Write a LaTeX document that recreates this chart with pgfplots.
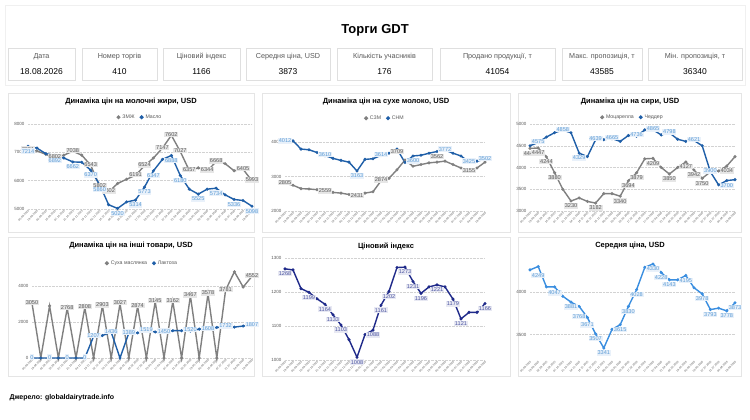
\documentclass[border=0pt]{standalone}
\usepackage{pgfplots}
\pgfplotsset{compat=1.18}
\usepackage{fontspec}
\setmainfont{Liberation Sans}
\definecolor{gl}{HTML}{808080}
\definecolor{glt}{HTML}{595959}
\definecolor{glf}{HTML}{E6E6E6}
\definecolor{bl}{HTML}{1F5FA8}
\definecolor{blt}{HTML}{5B9BD5}
\definecolor{blf}{HTML}{E9F1FA}
\definecolor{nv}{HTML}{1F2A8A}
\definecolor{nvf}{HTML}{E8E9F3}
\definecolor{lb}{HTML}{3A8EE0}
\pgfplotsset{
 panel/.style={scale only axis, xmin=0, xmax=25, xtick={0,...,25},
  xticklabels={05.08.2025,19.08.2025,02.09.2025,16.09.2025,07.10.2025,21.10.2025,04.11.2025,18.11.2025,02.12.2025,16.12.2025,06.01.2026,20.01.2026,03.02.2026,17.02.2026,03.03.2026,17.03.2026,07.04.2026,21.04.2026,05.05.2026,19.05.2026,02.06.2026,16.06.2026,07.07.2026,21.07.2026,04.08.2026,18.08.2026},
  x tick label style={rotate=45,anchor=north east,font=\fontsize{2.8}{3}\selectfont,inner sep=0.5pt,text=glt},
  y tick label style={font=\fontsize{4.5}{5}\selectfont,text=glt},
  ymajorgrids, grid style={densely dotted,gray!35},
  axis line style={draw=none}, major tick style={draw=none},
  /pgf/number format/1000 sep={}, /pgf/number format/assume math mode=true,
  legend style={draw=none,fill=none,font=\fontsize{5.2}{6}\selectfont,text=glt,legend columns=2,at={(0.5,1)},anchor=south,yshift=2pt,inner sep=0pt,
   /tikz/every even column/.append style={column sep=3pt}},
  legend image code/.code={\fill (0.05cm,0cm) circle (1.2pt);},
  clip=false},
 ln/.style={color=#1,line width=1.4pt,mark=*,mark size=0.7pt},
 lab/.style n args={3}{forget plot,draw=none,mark=none,nodes near coords={\pgfmathprintnumber[fixed,precision=0,1000 sep={}]{\pgfplotspointmeta}},point meta=y,
  nodes near coords style={font=\fontsize{5.6}{6}\selectfont,fill=#1,text=#2,inner sep=0.7pt,anchor=#3,yshift=\ifx#3south 2pt\else -2pt\fi}},
}
\begin{document}
\begin{tikzpicture}[x=1pt,y=1pt]
\fill[white] (0,0) rectangle (750,420);
\draw[gray!12] (5,415) rectangle (745,335);
\node[font=\bfseries\fontsize{13}{14}\selectfont] at (375,390) {Торги GDT};
\foreach \a/\b/\t/\v in {8/75/Дата/18.08.2026, 82/157/Номер торгів/410, 163/240/Ціновий індекс/1166, 246/330/{Середня ціна, USD}/3873, 337/432/Кількість учасників/176, 440/555/{Продано продукції, т}/41054, 562/642/{Макс. пропозиція, т}/43585, 648/742/{Мін. пропозиція, т}/36340}{
 \draw[gray!25] (\a,372) rectangle (\b,340);
 \node[font=\fontsize{7.2}{8}\selectfont,text=glt] at ({(\a+\b)/2},363) {\t};
 \node[font=\fontsize{8.5}{9}\selectfont] at ({(\a+\b)/2},348) {\v};
}
\foreach \a/\b/\c/\d in {8/254/327/188, 262/510/327/188, 518/741/327/188, 8/254/183/44, 262/510/183/44, 518/741/183/44}{
 \draw[gray!20,fill=white] (\a,\c) rectangle (\b,\d);
}
\tikzset{tt/.style={font=\bfseries\fontsize{7.5}{8}\selectfont}}
\node[tt] at (131,318) {Динаміка цін на молочні жири, USD};
\node[tt] at (386,318) {Динаміка цін на сухе молоко, USD};
\node[tt] at (630,318) {Динаміка цін на сири, USD};
\node[tt] at (131,174) {Динаміка цін на інші товари, USD};
\node[tt] at (386,174) {Ціновий індекс};
\node[tt] at (630,174) {Середня ціна, USD};
\node[font=\bfseries\fontsize{7}{8}\selectfont,anchor=west] at (6,22) {Джерело: globaldairytrade.info};

% P1
\begin{axis}[panel,at={(28pt,211pt)},anchor=south west,width=224pt,height=85pt,ymin=5000,ymax=8000,ytick={5000,6000,7000,8000}]
\addplot[ln=gl] coordinates {(0,7081)(1,7050)(2,6930)(3,6802)(4,6900)(5,7038)(6,6900)(7,6543)(8,5802)(9,5602)(10,5900)(11,6050)(12,6191)(13,6524)(14,6800)(15,7147)(16,7602)(17,7027)(18,6357)(19,6450)(20,6344)(21,6668)(22,6600)(23,6350)(24,6405)(25,5993)};
\addlegendentry{ЗМЖ}
\addplot[ln=bl] coordinates {(0,7214)(1,7150)(2,6950)(3,6892)(4,6800)(5,6662)(6,6650)(7,6370)(8,5860)(9,5150)(10,5020)(11,5250)(12,5314)(13,5773)(14,6347)(15,6750)(16,6888)(17,6180)(18,5700)(19,5525)(20,5700)(21,5734)(22,5500)(23,5336)(24,5300)(25,5098)};
\addlegendentry{Масло}
\addplot[lab={glf}{glt}{south}] coordinates {(0,7081)(3,6802)(5,7038)(7,6543)(8,5802)(9,5602)(12,6191)(13,6524)(15,7147)(16,7602)(17,7027)(18,6357)(20,6344)(21,6668)(24,6405)(25,5993)};
\addplot[lab={blf}{blt}{north}] coordinates {(0,7214)(3,6892)(5,6662)(7,6370)(8,5860)(10,5020)(12,5314)(13,5773)(14,6347)(16,6888)(17,6180)(19,5525)(21,5734)(23,5336)(25,5098)};
\end{axis}
% P2
\begin{axis}[panel,at={(285pt,209pt)},anchor=south west,width=200pt,height=86pt,ymin=2000,ymax=4500,ytick={2000,3000,4000}]
\addplot[ln=gl] coordinates {(0,2805)(1,2750)(2,2650)(3,2640)(4,2620)(5,2559)(6,2540)(7,2520)(8,2480)(9,2431)(10,2520)(11,2560)(12,2874)(13,2950)(14,3200)(15,3480)(16,3300)(17,3350)(18,3400)(19,3420)(20,3450)(21,3350)(22,3250)(23,3155)(24,3250)(25,3420)};
\addlegendentry{СЗМ}
\addplot[ln=bl] coordinates {(0,4012)(1,4040)(2,3800)(3,3780)(4,3700)(5,3610)(6,3530)(7,3470)(8,3420)(9,3163)(10,3500)(11,3520)(12,3614)(13,3680)(14,3800)(15,3409)(16,3600)(17,3620)(18,3680)(19,3730)(20,3772)(21,3680)(22,3600)(23,3425)(24,3450)(25,3502)};
\addlegendentry{СНМ}
\addplot[lab={glf}{glt}{south}] coordinates {(0,2805)(5,2559)(9,2431)(12,2874)(14,3709)(19,3562)(23,3155)};
\addplot[lab={blf}{blt}{south}] coordinates {(0,4012)(5,3610)(12,3614)(20,3772)(23,3425)(25,3502)};
\addplot[lab={blf}{blt}{north}] coordinates {(9,3163)(16,3600)};
\end{axis}
% P3
\begin{axis}[panel,at={(530pt,209pt)},anchor=south west,width=205pt,height=87pt,ymin=3000,ymax=5000,ytick={3000,3500,4000,4500,5000}]
\addplot[ln=gl] coordinates {(0,4440)(1,4447)(2,4244)(3,3880)(4,3500)(5,3230)(6,3300)(7,3220)(8,3182)(9,3400)(10,3400)(11,3340)(12,3694)(13,3879)(14,4200)(15,4209)(16,4000)(17,3850)(18,4000)(19,4127)(20,3942)(21,3750)(22,3900)(23,3920)(24,4034)(25,4250)};
\addlegendentry{Моцарелла}
\addplot[ln=bl] coordinates {(0,4500)(1,4575)(2,4700)(3,4800)(4,4858)(5,4800)(6,4329)(7,4250)(8,4639)(9,4640)(10,4665)(11,4600)(12,4736)(13,4720)(14,4865)(15,4865)(16,4750)(17,4798)(18,4650)(19,4600)(20,4621)(21,4500)(22,3900)(23,3600)(24,3700)(25,3720)};
\addlegendentry{Чеддер}
\addplot[lab={glf}{glt}{north}] coordinates {(0,4440)(1,4447)(2,4244)(3,3880)(5,3230)(8,3182)(11,3340)(12,3694)(13,3879)(15,4209)(17,3850)(19,4127)(20,3942)(21,3750)(24,4034)};
\addplot[lab={blf}{blt}{south}] coordinates {(1,4575)(4,4858)(8,4639)(10,4665)(13,4736)(15,4865)(17,4798)(20,4621)(22,3900)};
\addplot[lab={blf}{blt}{north}] coordinates {(6,4329)(24,3700)};
\end{axis}
% P4
\begin{axis}[panel,at={(32pt,62pt)},anchor=south west,width=220pt,height=88pt,ymin=0,ymax=4900,ytick={0,2000,4000}]
\addplot[ln=gl] coordinates {(0,3050)(1,0)(2,2900)(3,0)(4,2768)(5,0)(6,2808)(7,0)(8,2903)(9,0)(10,3027)(11,0)(12,2874)(13,0)(14,3145)(15,0)(16,3162)(17,0)(18,3467)(19,0)(20,3578)(21,0)(22,3781)(23,4800)(24,3950)(25,4552)};
\addlegendentry{Суха маслянка}
\addplot[ln=bl] coordinates {(0,0)(1,0)(2,0)(3,0)(4,0)(5,0)(6,0)(7,1207)(8,1250)(9,1436)(10,0)(11,1389)(12,1400)(13,1519)(14,1450)(15,1450)(16,1520)(17,1520)(18,1500)(19,1608)(20,1650)(21,1700)(22,1732)(23,1720)(24,1780)(25,1807)};
\addlegendentry{Лактоза}
\addplot[lab={glf}{glt}{south}] coordinates {(0,3050)(4,2768)(6,2808)(8,2903)(10,3027)(12,2874)(14,3145)(16,3162)(18,3467)(20,3578)(22,3781)(25,4552)};
\addplot[lab={blf}{blt}{south}] coordinates {(0,0)(2,0)(4,0)(6,0)(7,1207)(9,1436)(11,1389)(13,1519)(15,1450)(18,1520)(20,1608)(22,1732)(25,1807)};
\end{axis}
% P5
\begin{axis}[panel,at={(285pt,60pt)},anchor=south west,width=200pt,height=102pt,ymin=1000,ymax=1300,ytick={1000,1100,1200,1300}]
\addplot[ln=nv] coordinates {(0,1268)(1,1265)(2,1210)(3,1199)(4,1180)(5,1164)(6,1133)(7,1103)(8,1060)(9,1008)(10,1075)(11,1088)(12,1161)(13,1202)(14,1272)(15,1273)(16,1231)(17,1196)(18,1215)(19,1221)(20,1215)(21,1179)(22,1121)(23,1140)(24,1140)(25,1166)};
\addplot[lab={nvf}{nv!80}{north}] coordinates {(0,1268)(3,1199)(5,1164)(6,1133)(7,1103)(9,1008)(11,1088)(12,1161)(13,1202)(15,1273)(16,1231)(17,1196)(19,1221)(21,1179)(22,1121)(25,1166)};
\end{axis}
% P6
\begin{axis}[panel,at={(530pt,60pt)},anchor=south west,width=205pt,height=102pt,ymin=3200,ymax=4400,ytick={3500,4000}]
\addplot[ln=lb] coordinates {(0,4260)(1,4300)(2,4060)(3,4060)(4,3950)(5,3881)(6,3830)(7,3700)(8,3507)(9,3341)(10,3560)(11,3615)(12,3830)(13,4028)(14,4290)(15,4330)(16,4228)(17,4143)(18,4143)(19,4195)(20,4050)(21,3978)(22,3793)(23,3810)(24,3778)(25,3873)};
\addplot[lab={blf}{blt}{north}] coordinates {(1,4249)(3,4047)(5,3881)(6,3768)(7,3671)(8,3507)(9,3341)(11,3615)(12,3830)(13,4028)(15,4330)(16,4228)(17,4143)(19,4195)(21,3978)(22,3793)(24,3778)(25,3873)};
\end{axis}
\end{tikzpicture}
\end{document}
